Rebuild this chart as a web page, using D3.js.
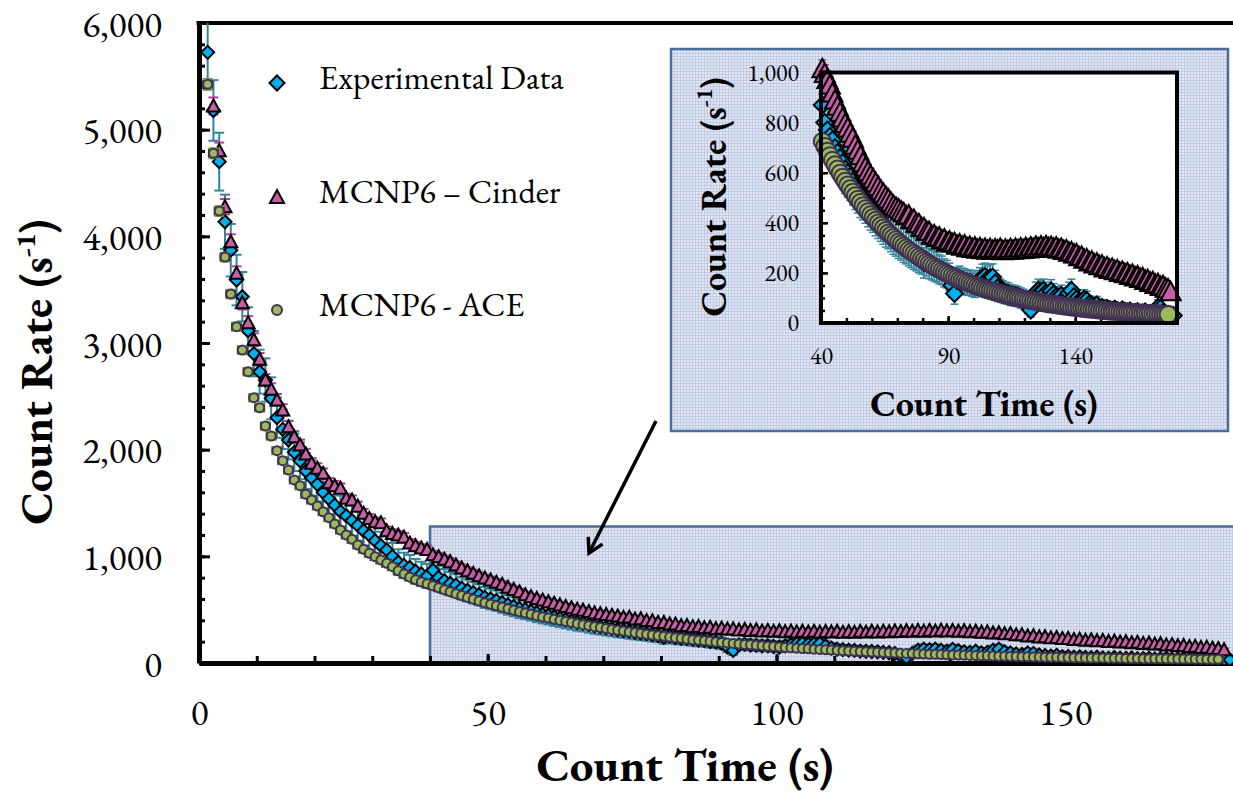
<!DOCTYPE html>
<html>
<head>
<meta charset="utf-8">
<script src="https://cdn.jsdelivr.net/npm/d3@7"></script>
<style>
  body { margin: 0; background: #fff; }
  svg { display: block; }
  text { font-family: Garamond, "EB Garamond", "Liberation Serif", serif; fill: #000; }
</style>
</head>
<body>
<svg id="chart" width="1233" height="794"></svg>
<script>
// count times (bin centres, s)
const expTimes = d3.range(1.5, 178.6, 1);
const cinderTimes = d3.range(2.5, 177.6, 1);
const aceTimes = d3.range(1.5, 176.6, 1);

// experimental count rate (s^-1) and 1-sigma error
const expRate = [
  5725, 5180, 4700, 4137, 3870, 3590, 3434, 3115, 2900, 2731,
  2653, 2481, 2300, 2190, 2090, 1975, 1895, 1800, 1735, 1675,
  1600, 1540, 1480, 1420, 1380, 1335, 1290, 1240, 1200, 1145,
  1100, 1060, 1000, 945, 915, 895, 860, 835, 815, 870,
  800, 770, 745, 730, 700, 680, 660, 640, 615, 600,
  585, 565, 545, 530, 510, 500, 485, 470, 455, 445,
  430, 418, 405, 392, 380, 372, 360, 348, 340, 330,
  322, 312, 305, 296, 288, 280, 273, 265, 258, 240,
  250, 238, 232, 228, 222, 214, 210, 200, 195, 185,
  150, 118, 170, 175, 168, 165, 160, 162, 155, 150,
  160, 170, 182, 185, 175, 180, 183, 160, 140, 130,
  125, 120, 118, 112, 110, 108, 105, 100, 96, 90,
  70, 52, 90, 120, 130, 125, 130, 120, 110, 128,
  115, 105, 100, 110, 95, 100, 120, 130, 105, 95,
  85, 80, 95, 90, 75, 70, 65, 72, 60, 62,
  55, 58, 52, 50, 55, 48, 45, 52, 46, 44,
  48, 40, 42, 45, 38, 40, 44, 36, 38, 40,
  35, 62, 58, 40, 36, 34, 32, 30
];
const expErr = [
  299, 284, 271, 254, 246, 237, 231, 220, 213, 206,
  203, 197, 189, 185, 181, 176, 172, 168, 165, 162,
  158, 155, 152, 149, 147, 144, 142, 139, 137, 134,
  131, 129, 125, 121, 119, 118, 116, 114, 113, 117,
  112, 110, 108, 107, 105, 103, 101, 100, 98, 97,
  96, 94, 92, 91, 89, 88, 87, 86, 84, 83,
  82, 81, 79, 78, 77, 76, 75, 74, 73, 72,
  71, 70, 69, 68, 67, 66, 65, 64, 63, 61,
  62, 61, 60, 60, 59, 58, 57, 56, 55, 54,
  48, 43, 51, 52, 51, 51, 50, 50, 49, 48,
  50, 51, 53, 54, 52, 53, 53, 50, 47, 45,
  44, 43, 43, 42, 41, 41, 40, 40, 39, 37,
  33, 28, 37, 43, 45, 44, 45, 43, 41, 45,
  42, 40, 40, 41, 38, 40, 43, 45, 40, 38,
  36, 35, 38, 37, 34, 33, 32, 34, 31, 31,
  29, 30, 28, 28, 29, 27, 26, 28, 27, 26,
  27, 25, 26, 26, 24, 25, 26, 24, 24, 25,
  23, 31, 30, 25, 24, 23, 22, 22
];

// MCNP6 - Cinder
const cinderRate = [
  5222, 4803, 4278, 3950, 3653, 3378, 3190, 3030, 2847, 2653,
  2566, 2466, 2372, 2215, 2122, 2044, 1959, 1872, 1825, 1778,
  1690, 1662, 1638, 1544, 1528, 1470, 1403, 1356, 1325, 1315,
  1240, 1215, 1200, 1180, 1125, 1100, 1078, 1065, 1015, 996,
  972, 950, 918, 890, 865, 841, 818, 796, 778, 757,
  738, 710, 690, 668, 640, 622, 605, 590, 575, 560,
  545, 530, 518, 505, 495, 482, 470, 462, 455, 447,
  440, 428, 431, 412, 414, 398, 396, 381, 380, 366,
  365, 350, 352, 341, 343, 331, 335, 322, 327, 318,
  320, 310, 315, 306, 311, 300, 306, 297, 303, 294,
  300, 292, 298, 290, 297, 289, 296, 291, 298, 288,
  295, 289, 297, 290, 298, 292, 299, 293, 301, 295,
  303, 297, 306, 299, 307, 300, 308, 301, 305, 298,
  303, 294, 298, 289, 292, 282, 284, 275, 276, 264,
  266, 254, 256, 244, 247, 236, 239, 229, 231, 220,
  224, 214, 218, 209, 212, 202, 206, 197, 200, 190,
  194, 184, 188, 178, 181, 170, 173, 162, 165, 154,
  157, 146, 149, 139, 136, 125
];
const cinderErr = [
  80, 76, 72, 69, 66, 64, 62, 61, 59, 57,
  56, 55, 54, 52, 51, 50, 49, 48, 47, 46,
  45, 45, 45, 43, 43, 42, 41, 40, 40, 40,
  39, 38, 38, 38, 37, 36, 36, 36, 35, 35,
  34, 34, 33, 33, 32, 32, 31, 31, 31, 30,
  30, 29, 29, 28, 28, 27, 27, 27, 26, 26,
  26, 25, 25, 25, 24, 24, 24, 24, 23, 23,
  23, 23, 23, 22, 22, 22, 22, 21, 21, 21,
  21, 21, 21, 20, 20, 20, 20, 20, 20, 20,
  20, 19, 20, 19, 19, 19, 19, 19, 19, 19,
  19, 19, 19, 19, 19, 19, 19, 19, 19, 19,
  19, 19, 19, 19, 19, 19, 19, 19, 19, 19,
  19, 19, 19, 19, 19, 19, 19, 19, 19, 19,
  19, 19, 19, 19, 19, 18, 18, 18, 18, 18,
  18, 18, 18, 17, 17, 17, 17, 17, 17, 16,
  16, 16, 16, 16, 16, 16, 16, 15, 16, 15,
  15, 15, 15, 15, 15, 14, 14, 14, 14, 14,
  14, 13, 13, 13, 13, 12
];

// MCNP6 - ACE
const aceRate = [
  5425, 4778, 4237, 3806, 3459, 3153, 2934, 2731, 2487, 2393,
  2222, 2128, 1990, 1897, 1809, 1716, 1662, 1581, 1528, 1472,
  1418, 1362, 1303, 1247, 1200, 1159, 1106, 1066, 1028, 997,
  966, 935, 903, 866, 834, 805, 780, 760, 742, 725,
  705, 686, 668, 650, 632, 615, 598, 582, 566, 551,
  536, 522, 508, 494, 481, 468, 456, 444, 432, 421,
  410, 399, 389, 379, 369, 359, 350, 341, 332, 323,
  315, 307, 299, 291, 284, 277, 270, 263, 256, 250,
  243, 237, 231, 225, 219, 214, 208, 203, 198, 193,
  188, 183, 179, 174, 170, 166, 162, 158, 154, 150,
  146, 143, 139, 136, 133, 130, 127, 124, 121, 118,
  115, 113, 110, 108, 105, 103, 101, 98, 96, 94,
  92, 90, 88, 86, 84, 82, 81, 79, 77, 76,
  74, 73, 71, 70, 68, 67, 66, 64, 63, 62,
  61, 59, 58, 57, 56, 55, 54, 53, 52, 51,
  50, 49, 48, 47, 47, 46, 45, 44, 44, 43,
  42, 42, 41, 40, 40, 39, 39, 38, 38, 37,
  37, 36, 36, 35, 35, 34
];
const aceErr = [
  52, 48, 46, 43, 41, 39, 38, 37, 35, 34,
  33, 32, 31, 30, 30, 29, 29, 28, 27, 27,
  26, 26, 25, 25, 24, 24, 23, 23, 22, 22,
  22, 21, 21, 21, 20, 20, 20, 19, 19, 19,
  19, 18, 18, 18, 18, 17, 17, 17, 17, 16,
  16, 16, 16, 16, 15, 15, 15, 15, 15, 14,
  14, 14, 14, 14, 13, 13, 13, 13, 13, 13,
  12, 12, 12, 12, 12, 12, 12, 11, 11, 11,
  11, 11, 11, 11, 10, 10, 10, 10, 10, 10,
  10, 9, 9, 9, 9, 9, 9, 9, 9, 9,
  8, 8, 8, 8, 8, 8, 8, 8, 8, 8,
  8, 7, 7, 7, 7, 7, 7, 7, 7, 7,
  7, 7, 7, 7, 6, 6, 6, 6, 6, 6,
  6, 6, 6, 6, 6, 6, 6, 6, 6, 6,
  5, 5, 5, 5, 5, 5, 5, 5, 5, 5,
  5, 5, 5, 5, 5, 5, 5, 5, 5, 5,
  5, 5, 4, 4, 4, 4, 4, 4, 4, 4,
  4, 4, 4, 4, 4, 4
];
const aceTimeErr = 0.8; // horizontal bar half width (s)

const legendNames = ["Experimental Data", "MCNP6 \u2013 Cinder", "MCNP6 - ACE"];
const yTicksMain = [0, 1000, 2000, 3000, 4000, 5000, 6000];
const xTicksMain = [0, 50, 100, 150];
const yTicksInset = [0, 200, 400, 600, 800, 1000];
const xTicksInset = [40, 90, 140];
const zoomWindow = { t0: 40, t1: 180, top: 1280 };

const expData = expTimes.map((t, i) => ({ t, v: expRate[i], e: expErr[i] }));
const cinderData = cinderTimes.map((t, i) => ({ t, v: cinderRate[i], e: cinderErr[i] }));
const aceData = aceTimes.map((t, i) => ({ t, v: aceRate[i], e: aceErr[i] }));

const svg = d3.select("#chart");
const defs = svg.append("defs");

// dotted fill used for the zoom box and the inset background
const pat = defs.append("pattern")
  .attr("id", "dots")
  .attr("width", 3).attr("height", 3)
  .attr("patternUnits", "userSpaceOnUse");
pat.append("rect").attr("width", 3).attr("height", 3).attr("fill", "#c2cbe6");
pat.append("rect").attr("width", 2).attr("height", 2).attr("fill", "#e2e7f4");

// marker paths
const diamond = (r) => `M0,${-r}L${r},0L0,${r}L${-r},0Z`;
const triangle = (r) => `M0,${-r}L${r},${r * 0.85}L${-r},${r * 0.85}Z`;

const COL = {
  exp: "#00b0f0",
  expBar: "#31859c",
  cinder: "#c65fa5",
  cinderBar: "#c0399a",
  ace: "#9bbb59",
  aceStroke: "#403152",
  aceBar: "#77933c",
  box: "#4a6d9c"
};

// ---------- main chart ----------
const x = d3.scaleLinear().domain([0, 180]).range([199, 1238.5]);
const y = d3.scaleLinear().domain([0, 6000]).range([663, 23]);

defs.append("clipPath").attr("id", "mainClip")
  .append("rect").attr("x", 199).attr("y", 23).attr("width", 1045).attr("height", 642);

// zoom window
svg.append("rect")
  .attr("x", x(zoomWindow.t0))
  .attr("y", y(zoomWindow.top))
  .attr("width", x(zoomWindow.t1) - x(zoomWindow.t0))
  .attr("height", y(0) - y(zoomWindow.top))
  .attr("fill", "url(#dots)")
  .attr("stroke", COL.box)
  .attr("stroke-width", 2.5);

// axes
function styleAxis(g, lineW) {
  g.select(".domain").attr("stroke", "#000").attr("stroke-width", 5);
  g.selectAll(".tick line").attr("stroke", "#000").attr("stroke-width", lineW);
}

svg.append("g")
  .attr("transform", `translate(${x(0)},0)`)
  .call(d3.axisLeft(y).tickValues(d3.range(200, 6000, 200)).tickSize(-6).tickFormat(""))
  .call((g) => { g.select(".domain").remove(); g.selectAll(".tick line").attr("stroke", "#000").attr("stroke-width", 3); });

svg.append("g")
  .attr("transform", `translate(0,${y(0)})`)
  .call(d3.axisBottom(x).tickValues(d3.range(10, 180, 10)).tickSize(-7).tickFormat(""))
  .call((g) => { g.select(".domain").remove(); g.selectAll(".tick line").attr("stroke", "#000").attr("stroke-width", 3); });

svg.append("g")
  .attr("transform", `translate(${x(0)},0)`)
  .call(d3.axisLeft(y).tickValues(yTicksMain).tickFormat(d3.format(",")).tickSizeInner(-11).tickSizeOuter(0).tickPadding(37))
  .call((g) => styleAxis(g, 3))
  .call((g) => g.selectAll("text").attr("font-size", 37).attr("dy", "0.36em"));

svg.append("g")
  .attr("transform", `translate(0,${y(0)})`)
  .call(d3.axisBottom(x).tickValues(xTicksMain).tickSizeInner(-9).tickSizeOuter(0).tickPadding(36))
  .call((g) => styleAxis(g, 3))
  .call((g) => g.selectAll("text").attr("font-size", 37));

svg.append("line")
  .attr("x1", x(0) - 2.5).attr("x2", 1233)
  .attr("y1", y(6000)).attr("y2", y(6000))
  .attr("stroke", "#000").attr("stroke-width", 4);

// axis titles
svg.append("text")
  .attr("x", 685).attr("y", 781)
  .attr("text-anchor", "middle")
  .attr("font-size", 47).attr("font-weight", "bold")
  .text("Count Time (s)");

function rateTitle(g, cx, cy, size) {
  const t = g.append("text")
    .attr("transform", `translate(${cx},${cy}) rotate(-90)`)
    .attr("text-anchor", "middle")
    .attr("dy", "0.35em")
    .attr("font-size", size).attr("font-weight", "bold");
  t.append("tspan").text("Count Rate (s");
  t.append("tspan").attr("font-size", size * 0.62).attr("dy", -size * 0.38).text("-1");
  t.append("tspan").attr("dy", size * 0.38).text(")");
}
rateTitle(svg, 36, 372, 46);

// series drawing (shared by main chart and inset)
function drawSeries(g, xs, ys, opt) {
  const cw = opt.cap;
  // experimental error bars
  const eb = g.append("g").attr("stroke", COL.expBar).attr("stroke-width", opt.barW);
  opt.exp.forEach((d) => {
    eb.append("line").attr("x1", xs(d.t)).attr("x2", xs(d.t)).attr("y1", ys(d.v - d.e)).attr("y2", ys(d.v + d.e));
    eb.append("line").attr("x1", xs(d.t) - cw).attr("x2", xs(d.t) + cw).attr("y1", ys(d.v - d.e)).attr("y2", ys(d.v - d.e));
    eb.append("line").attr("x1", xs(d.t) - cw).attr("x2", xs(d.t) + cw).attr("y1", ys(d.v + d.e)).attr("y2", ys(d.v + d.e));
  });
  // cinder error caps
  const cb = g.append("g").attr("stroke", COL.cinderBar).attr("stroke-width", opt.barW);
  opt.cinder.forEach((d) => {
    [d.v - d.e, d.v + d.e].forEach((v) => {
      cb.append("line").attr("x1", xs(d.t) - cw).attr("x2", xs(d.t) + cw).attr("y1", ys(v)).attr("y2", ys(v));
    });
  });

  g.append("g").selectAll("path")
    .data(opt.exp)
    .join("path")
    .attr("d", diamond(opt.dR))
    .attr("transform", (d) => `translate(${xs(d.t)},${ys(d.v)})`)
    .attr("fill", COL.exp).attr("stroke", "#000").attr("stroke-width", opt.sw);

  g.append("g").selectAll("path")
    .data(opt.cinder)
    .join("path")
    .attr("d", triangle(opt.tR))
    .attr("transform", (d) => `translate(${xs(d.t)},${ys(d.v)})`)
    .attr("fill", COL.cinder).attr("stroke", "#000").attr("stroke-width", opt.sw);

  // ace error bars (x bar with dark caps, y caps olive)
  const ab = g.append("g");
  opt.ace.forEach((d) => {
    const x0 = xs(d.t - aceTimeErr), x1 = xs(d.t + aceTimeErr);
    ab.append("line").attr("x1", x0).attr("x2", x1).attr("y1", ys(d.v)).attr("y2", ys(d.v))
      .attr("stroke", COL.aceStroke).attr("stroke-width", 1.5);
    [x0, x1].forEach((xx) => ab.append("line").attr("x1", xx).attr("x2", xx)
      .attr("y1", ys(d.v) - opt.cR).attr("y2", ys(d.v) + opt.cR)
      .attr("stroke", COL.aceStroke).attr("stroke-width", 1.8));
    [d.v - d.e, d.v + d.e].forEach((v) => ab.append("line")
      .attr("x1", xs(d.t) - cw).attr("x2", xs(d.t) + cw).attr("y1", ys(v)).attr("y2", ys(v))
      .attr("stroke", COL.aceBar).attr("stroke-width", 1.8));
  });

  g.append("g").selectAll("circle")
    .data(opt.ace)
    .join("circle")
    .attr("cx", (d) => xs(d.t)).attr("cy", (d) => ys(d.v))
    .attr("r", opt.cR)
    .attr("fill", COL.ace).attr("stroke", COL.aceStroke).attr("stroke-width", opt.sw);
}

drawSeries(svg.append("g").attr("clip-path", "url(#mainClip)"), x, y, {
  exp: expData, cinder: cinderData, ace: aceData,
  cap: 5, barW: 2, dR: 6.5, tR: 6.5, cR: 4.5, sw: 2
});

// legend
const legend = svg.append("g");
const legendY = [83, 197, 310];
legend.append("path").attr("d", diamond(7.5)).attr("transform", `translate(277,${legendY[0]})`)
  .attr("fill", COL.exp).attr("stroke", "#000").attr("stroke-width", 2);
legend.append("path").attr("d", triangle(7)).attr("transform", `translate(277,${legendY[1]})`)
  .attr("fill", COL.cinder).attr("stroke", "#000").attr("stroke-width", 2);
legend.append("circle").attr("cx", 277).attr("cy", legendY[2]).attr("r", 5)
  .attr("fill", COL.ace).attr("stroke", COL.aceStroke).attr("stroke-width", 2);
legend.selectAll("text")
  .data(legendNames)
  .join("text")
  .attr("x", 319)
  .attr("y", (d, i) => legendY[i] + 6)
  .attr("font-size", 34)
  .text((d) => d);

// arrow from inset to zoom window
defs.append("marker")
  .attr("id", "arrowHead")
  .attr("viewBox", "0 0 20 20").attr("refX", 17).attr("refY", 10)
  .attr("markerWidth", 20).attr("markerHeight", 20)
  .attr("markerUnits", "userSpaceOnUse")
  .attr("orient", "auto")
  .append("path").attr("d", "M3,2L17,10L3,18")
  .attr("fill", "none").attr("stroke", "#000").attr("stroke-width", 3.5);
svg.append("line")
  .attr("x1", 656).attr("y1", 421).attr("x2", 589).attr("y2", 553)
  .attr("stroke", "#000").attr("stroke-width", 3.5)
  .attr("marker-end", "url(#arrowHead)");

// ---------- inset ----------
const inset = svg.append("g");
inset.append("rect")
  .attr("x", 671).attr("y", 49).attr("width", 557).attr("height", 382)
  .attr("fill", "url(#dots)").attr("stroke", COL.box).attr("stroke-width", 2.5);

const xi = d3.scaleLinear().domain([40, 180]).range([821, 1177]);
const yi = d3.scaleLinear().domain([0, 1000]).range([323, 72.5]);

inset.append("rect")
  .attr("x", xi(40)).attr("y", yi(1000))
  .attr("width", xi(180) - xi(40)).attr("height", yi(0) - yi(1000))
  .attr("fill", "#fff");

inset.append("g")
  .attr("transform", `translate(${xi(40)},0)`)
  .call(d3.axisLeft(yi).tickValues(d3.range(50, 1000, 50)).tickSize(-4).tickFormat(""))
  .call((g) => { g.select(".domain").remove(); g.selectAll(".tick line").attr("stroke", "#000").attr("stroke-width", 2.5); });
inset.append("g")
  .attr("transform", `translate(0,${yi(0)})`)
  .call(d3.axisBottom(xi).tickValues(d3.range(50, 180, 10)).tickSize(-5).tickFormat(""))
  .call((g) => { g.select(".domain").remove(); g.selectAll(".tick line").attr("stroke", "#000").attr("stroke-width", 2.5); });

inset.append("g")
  .attr("transform", `translate(${xi(40)},0)`)
  .call(d3.axisLeft(yi).tickValues(yTicksInset).tickFormat(d3.format(",")).tickSizeInner(-7).tickSizeOuter(0).tickPadding(22))
  .call((g) => { g.select(".domain").remove(); g.selectAll(".tick line").attr("stroke", "#000").attr("stroke-width", 2.5); })
  .call((g) => g.selectAll("text").attr("font-size", 24));
inset.append("g")
  .attr("transform", `translate(0,${yi(0)})`)
  .call(d3.axisBottom(xi).tickValues(xTicksInset).tickSizeInner(-7).tickSizeOuter(0).tickPadding(24))
  .call((g) => { g.select(".domain").remove(); g.selectAll(".tick line").attr("stroke", "#000").attr("stroke-width", 2.5); })
  .call((g) => g.selectAll("text").attr("font-size", 24));

const inWin = (d) => d.t >= 40 && d.t <= 180;
drawSeries(inset.append("g"), xi, yi, {
  exp: expData.filter(inWin), cinder: cinderData.filter(inWin), ace: aceData.filter(inWin),
  cap: 4, barW: 1.5, dR: 8.5, tR: 10, cR: 8.5, sw: 2
});

// inset frame on top
inset.append("rect")
  .attr("x", xi(40)).attr("y", yi(1000))
  .attr("width", xi(180) - xi(40)).attr("height", yi(0) - yi(1000))
  .attr("fill", "none").attr("stroke", "#000").attr("stroke-width", 4);

inset.append("text")
  .attr("x", 984).attr("y", 416)
  .attr("text-anchor", "middle")
  .attr("font-size", 36).attr("font-weight", "bold")
  .text("Count Time (s)");
rateTitle(inset, 713, 197, 36);
</script>
</body>
</html>
